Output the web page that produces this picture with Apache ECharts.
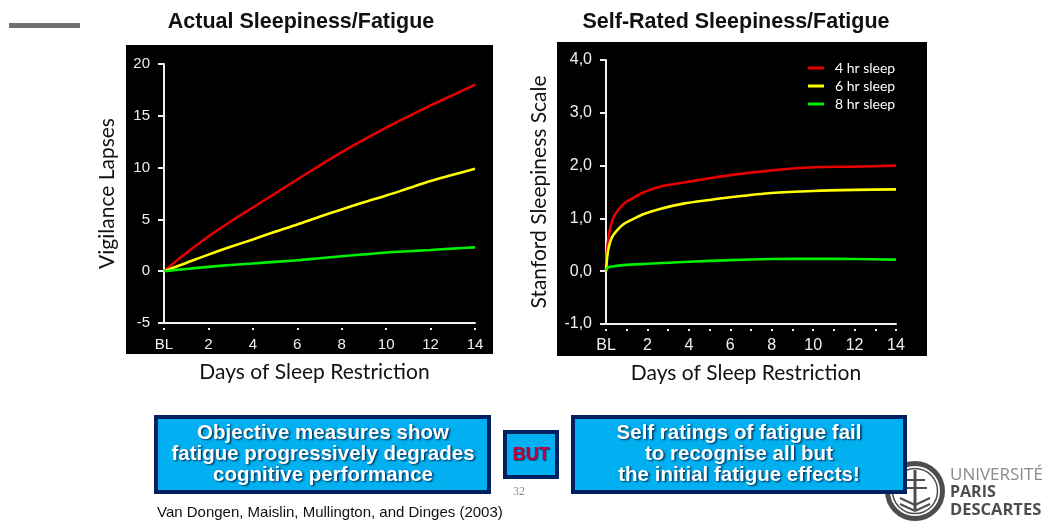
<!DOCTYPE html>
<html>
<head>
<meta charset="utf-8">
<style>html,body{margin:0;padding:0;background:#fff}#c{width:1045px;height:523px}</style>
<script src="https://cdn.jsdelivr.net/npm/echarts@6/dist/echarts.min.js"></script>
</head>
<body>
<div id="c"></div>
<script>
const seriesNames = ['4 hr sleep', '6 hr sleep', '8 hr sleep'];
const seriesColors = ['#e60000', '#ffff00', '#00f000'];

const actualDays = [0, 1, 2, 3, 4, 5, 6, 7, 8, 9, 10, 11, 12, 13, 14];
const actual4hr = [0, 1.75, 3.35, 4.8, 6.15, 7.5, 8.85, 10.2, 11.5, 12.7, 13.85, 14.95, 16.0, 17.0, 18.0];
const actual6hr = [0, 0.8, 1.6, 2.35, 3.07, 3.8, 4.5, 5.25, 5.96, 6.65, 7.3, 8.0, 8.7, 9.3, 9.9];
const actual8hr = [0, 0.22, 0.42, 0.6, 0.75, 0.9, 1.05, 1.25, 1.45, 1.62, 1.8, 1.93, 2.05, 2.18, 2.3];

const ratedDays4hr = [0, 0.03, 0.11, 0.22, 0.43, 0.84, 1.32, 1.8, 2.6, 3.74, 5, 6, 8, 10, 12, 14];
const rated4hr = [0, 0.28, 0.6, 0.85, 1.07, 1.27, 1.39, 1.49, 1.6, 1.68, 1.76, 1.82, 1.91, 1.97, 1.98, 2.0];
const ratedDays6hr = [0, 0.03, 0.11, 0.27, 0.5, 0.84, 1.32, 1.8, 2.6, 3.74, 5, 6, 8, 10, 12, 14];
const rated6hr = [0, 0.16, 0.41, 0.63, 0.76, 0.89, 0.99, 1.08, 1.18, 1.28, 1.35, 1.4, 1.48, 1.52, 1.54, 1.55];
const ratedDays8hr = [0, 0.1, 0.3, 0.84, 2, 4, 6, 8, 10, 12, 14];
const rated8hr = [0.02, 0.07, 0.09, 0.115, 0.14, 0.18, 0.21, 0.23, 0.235, 0.23, 0.22];

const titles = ['Actual Sleepiness/Fatigue', 'Self-Rated Sleepiness/Fatigue'];
const xName = 'Days of Sleep Restriction';
const yNames = ['Vigilance Lapses', 'Stanford Sleepiness Scale'];
const baselineLabel = 'BL';
const leftBoxText = 'Objective measures show\nfatigue progressively degrades\ncognitive performance';
const rightBoxText = 'Self ratings of fatigue fail\nto recognise all but\nthe initial fatigue effects!';
const butText = 'BUT';
const pageNumber = '32';
const citation = 'Van Dongen, Maislin, Mullington, and Dinges (2003)';
const logoLines = ['UNIVERSITÉ', 'PARIS', 'DESCARTES'];

const zip = (xs, ys) => xs.map((x, i) => [x, ys[i]]);
const sans = '"Liberation Sans", Arial, sans-serif';
const human = 'Lato, "Open Sans", sans-serif';
const white = '#f0f0f0';

function lineSeries(i, xi, data, smooth) {
  return {
    type: 'line', name: seriesNames[i], xAxisIndex: xi, yAxisIndex: xi > 1 ? 1 : 0,
    data, smooth, symbol: 'none', clip: false, animation: false,
    lineStyle: { color: seriesColors[i], width: 2.6 }, itemStyle: { color: seriesColors[i] }
  };
}
function mainX(gridIndex, fontSize) {
  return {
    type: 'value', gridIndex, min: 0, max: 14, interval: 2, position: 'bottom',
    name: xName, nameLocation: 'middle', nameGap: 39,
    nameTextStyle: { fontFamily: human, fontSize: 21, color: '#111', padding: [0, 10, 0, 0] },
    axisLine: { onZero: false, lineStyle: { color: white, width: 2 } },
    axisTick: { show: false }, splitLine: { show: false },
    axisLabel: { margin: 14, color: white, fontFamily: sans, fontSize,
      formatter: v => v === 0 ? baselineLabel : String(v) }
  };
}
function dotX(gridIndex, interval) {
  return {
    type: 'value', gridIndex, min: 0, max: 14, interval, position: 'bottom', offset: 5,
    axisLine: { show: false, onZero: false }, splitLine: { show: false }, axisLabel: { show: false },
    axisTick: { show: true, length: 2, lineStyle: { color: white, width: 2 } }
  };
}
function mainY(gridIndex, min, max, interval, name, nameGap, formatter, fontSize) {
  return {
    type: 'value', gridIndex, min, max, interval, name, nameLocation: 'middle', nameGap,
    nameTextStyle: { fontFamily: human, fontSize: 21, color: '#111' },
    axisLine: { show: true, onZero: false, lineStyle: { color: white, width: 2 } },
    axisTick: { show: true, length: 6, lineStyle: { color: white, width: 2 } },
    splitLine: { show: false },
    axisLabel: { margin: 14, color: white, fontFamily: sans, fontSize, formatter }
  };
}

const rect = (x, y, width, height, fill, z, stroke, lineWidth) => ({
  type: 'rect', silent: true, z, shape: { x, y, width, height },
  style: { fill, stroke: stroke || null, lineWidth: lineWidth || 0 }
});
const boxText = (x, y, text) => ({
  type: 'text', silent: true, z: 12, x, y,
  style: { text, fill: '#fff', font: 'bold 20.5px ' + sans, align: 'center', verticalAlign: 'middle',
    lineHeight: 21, textShadowColor: 'rgba(0,40,80,0.95)', textShadowBlur: 2, textShadowOffsetX: 1.5, textShadowOffsetY: 1.5 }
});
const ring = (r, lineWidth) => ({
  type: 'circle', silent: true, z: 5, shape: { cx: 915, cy: 491, r },
  style: { fill: 'none', stroke: '#4d4d4d', lineWidth }
});
const logoLine = (x1, y1, x2, y2, w) => ({
  type: 'line', silent: true, z: 5, shape: { x1, y1, x2, y2 },
  style: { stroke: '#4d4d4d', lineWidth: w || 2 }
});
const logoText = (y, text, font, fill) => ({
  type: 'text', silent: true, z: 5, x: 950, y,
  style: { text, fill, font: font + ' "Open Sans", sans-serif', verticalAlign: 'middle' }
});

const graphics = [
  rect(9, 23, 71, 5, '#707070', 0),
  rect(126, 45, 367, 309, '#000', -1),
  rect(557, 42, 370, 314, '#000', -1),
  ring(27.5, 5), ring(22.5, 1.5),
  logoLine(915, 470, 915, 510, 3), logoLine(905, 480, 925, 480), logoLine(903, 488, 927, 488),
  logoLine(900, 498, 915, 505), logoLine(930, 498, 915, 505), logoLine(900, 504, 915, 511), logoLine(930, 504, 915, 511),
  logoText(475, logoLines[0], '17px', '#8a8a8a'),
  logoText(492, logoLines[1], 'bold 16px', '#4d4d4d'),
  logoText(510, logoLines[2], 'bold 16.5px', '#4d4d4d'),
  rect(156, 417, 333, 75, '#00b0f0', 10, '#002060', 4),
  rect(573, 417, 332, 75, '#00b0f0', 10, '#002060', 4),
  rect(505, 432, 52, 45, '#00b0f0', 10, '#002060', 4),
  boxText(323, 454, leftBoxText),
  boxText(739, 454, rightBoxText),
  { type: 'text', silent: true, z: 12, x: 531, y: 455, style: { text: butText, fill: '#c00040', font: 'bold 18px ' + sans, align: 'center', verticalAlign: 'middle', textShadowColor: 'rgba(0,40,80,0.8)', textShadowBlur: 1, textShadowOffsetX: 1, textShadowOffsetY: 1 } },
  { type: 'text', silent: true, z: 12, x: 519, y: 492, style: { text: pageNumber, fill: '#8c8c8c', font: '12px "Liberation Serif", serif', align: 'center', verticalAlign: 'middle' } },
  { type: 'text', silent: true, z: 12, x: 157, y: 513, style: { text: citation, fill: '#111', font: '15px ' + sans, verticalAlign: 'middle' } }
];

const option = {
  animation: false,
  backgroundColor: '#fff',
  title: [
    { text: titles[0], left: 296, top: 6, textAlign: 'center', textStyle: { fontFamily: sans, fontWeight: 'bold', fontSize: 21.5, color: '#111' } },
    { text: titles[1], left: 731, top: 6, textAlign: 'center', textStyle: { fontFamily: sans, fontWeight: 'bold', fontSize: 21.5, color: '#111' } }
  ],
  legend: {
    orient: 'vertical', left: 803, top: 56, itemWidth: 16, itemHeight: 3, itemGap: 4,
    icon: 'rect', data: seriesNames, selectedMode: false,
    textStyle: { color: '#fff', fontFamily: human, fontSize: 14, padding: [0, 0, 0, 6] }
  },
  grid: [
    { left: 164, top: 64, width: 311, height: 259 },
    { left: 606, top: 60, width: 290, height: 264 }
  ],
  xAxis: [mainX(0, 15), dotX(0, 2), mainX(1, 16), dotX(1, 1)],
  yAxis: [
    mainY(0, -5, 20, 5, yNames[0], 46, v => String(v), 15),
    mainY(1, -1, 4, 1, yNames[1], 56, v => v.toFixed(1).replace('.', ','), 16)
  ],
  graphic: { elements: graphics },
  series: [
    lineSeries(0, 0, zip(actualDays, actual4hr), 0.3),
    lineSeries(1, 0, zip(actualDays, actual6hr), 0.3),
    lineSeries(2, 0, zip(actualDays, actual8hr), 0.3),
    lineSeries(0, 2, zip(ratedDays4hr, rated4hr), 0.3),
    lineSeries(1, 2, zip(ratedDays6hr, rated6hr), 0.3),
    lineSeries(2, 2, zip(ratedDays8hr, rated8hr), 0.3)
  ]
};
echarts.init(document.getElementById('c'), null, { renderer: 'canvas' }).setOption(option);
</script>
</body>
</html>
